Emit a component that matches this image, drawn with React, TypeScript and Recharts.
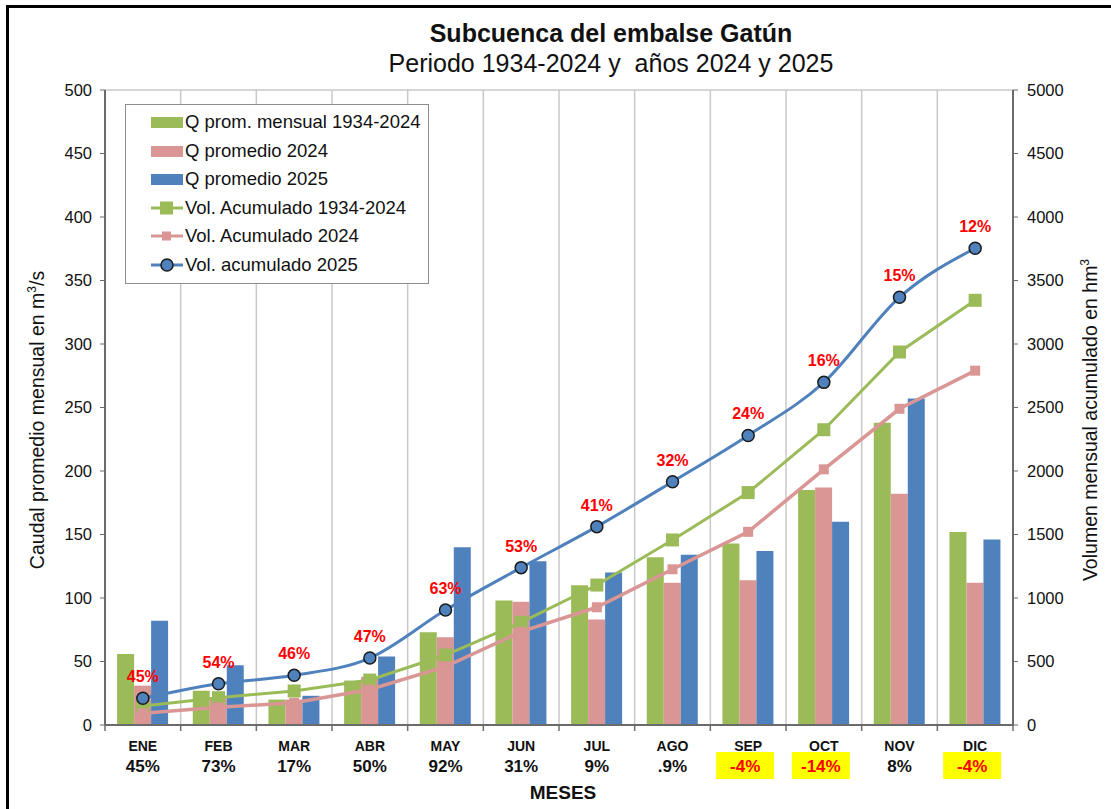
import {
  ComposedChart,
  Bar,
  Line,
  XAxis,
  YAxis,
  CartesianGrid,
  Legend,
  LabelList,
} from "recharts";

const months = ["ENE", "FEB", "MAR", "ABR", "MAY", "JUN", "JUL", "AGO", "SEP", "OCT", "NOV", "DIC"];
const monthChange = ["45%", "73%", "17%", "50%", "92%", "31%", "9%", ".9%", "-4%", "-14%", "8%", "-4%"];

const qHist = [56, 27, 20, 35, 73, 98, 110, 132, 143, 185, 238, 152];
const q2024 = [31, 22, 20, 38, 69, 97, 83, 112, 114, 187, 182, 112];
const q2025 = [82, 47, 23, 54, 140, 129, 120, 134, 137, 160, 257, 146];

const volHist = [150, 215, 268, 354, 551, 808, 1102, 1457, 1830, 2325, 2937, 3344];
const vol2024 = [92, 140, 175, 280, 460, 735, 927, 1226, 1521, 2013, 2490, 2790];
const vol2025 = [210, 325, 391, 527, 905, 1239, 1562, 1916, 2280, 2698, 3368, 3754];
const vol2025Pct = ["45%", "54%", "46%", "47%", "63%", "53%", "41%", "32%", "24%", "16%", "15%", "12%"];

const leftTicks = [0, 50, 100, 150, 200, 250, 300, 350, 400, 450, 500];
const rightTicks = [0, 500, 1000, 1500, 2000, 2500, 3000, 3500, 4000, 4500, 5000];

const data = months.map((m, i) => ({
  month: m,
  qHist: qHist[i],
  q2024: q2024[i],
  q2025: q2025[i],
  volHist: volHist[i],
  vol2024: vol2024[i],
  vol2025: vol2025[i],
  pct: vol2025Pct[i],
}));

const GREEN = "#9BBB59";
const PINK = "#D99694";
const BLUE = "#4F81BD";
const FONT = "'Liberation Sans', Arial, sans-serif";
const NARROW = "'Liberation Sans Narrow', 'Arial Narrow', 'Liberation Sans', Arial, sans-serif";

const PLOT_LEFT = 105;
const PLOT_W = 908;
const BAND = PLOT_W / months.length;

const legendItems = [
  { label: "Q prom. mensual 1934-2024", color: GREEN, kind: "bar" },
  { label: "Q promedio 2024", color: PINK, kind: "bar" },
  { label: "Q promedio 2025", color: BLUE, kind: "bar" },
  { label: "Vol. Acumulado 1934-2024", color: GREEN, kind: "square" },
  { label: "Vol. Acumulado 2024", color: PINK, kind: "small" },
  { label: "Vol. acumulado 2025", color: BLUE, kind: "circle" },
];

function LegendBox() {
  return (
    <div
      style={{
        border: "1.5px solid #8c8c8c",
        background: "#fff",
        padding: "3px 4px 4px 24px",
        fontFamily: FONT,
        fontSize: 18.5,
        color: "#111",
        width: 274,
      }}
    >
      {legendItems.map((it) => (
        <div key={it.label} style={{ display: "flex", alignItems: "center", height: 28.5, whiteSpace: "nowrap" }}>
          <svg width={34} height={16} style={{ marginRight: 1, flexShrink: 0 }}>
            {it.kind === "bar" ? (
              <rect x={1} y={3} width={32} height={11} fill={it.color} />
            ) : (
              <>
                <line x1={1} y1={8} x2={33} y2={8} stroke={it.color} strokeWidth={3} />
                {it.kind === "square" && <rect x={10} y={1.5} width={13} height={13} fill={it.color} />}
                {it.kind === "small" && <rect x={12} y={3.5} width={9} height={9} fill={it.color} />}
                {it.kind === "circle" && (
                  <circle cx={17} cy={8} r={6} fill={it.color} stroke="#1a1a1a" strokeWidth={1.5} />
                )}
              </>
            )}
          </svg>
          <span>{it.label}</span>
        </div>
      ))}
    </div>
  );
}

function MonthTick(props: any) {
  const { x, y, payload } = props;
  const i = payload.index;
  const change = monthChange[i];
  const neg = change.startsWith("-");
  const left = x - BAND / 2;
  return (
    <g>
      <line x1={left} y1={y} x2={left} y2={y + 6} stroke="#6b6b6b" strokeWidth={1.5} />
      {i === months.length - 1 && (
        <line x1={x + BAND / 2} y1={y} x2={x + BAND / 2} y2={y + 6} stroke="#6b6b6b" strokeWidth={1.5} />
      )}
      <text x={x} y={y + 26} textAnchor="middle" fontFamily={NARROW} fontWeight="bold" fontSize={14} fill="#111">
        {payload.value}
      </text>
      {neg && <rect x={x - 32} y={y + 27} width={58} height={27} fill="#FFFF00" />}
      <text
        x={neg ? x - 3 : x}
        y={y + 47}
        textAnchor="middle"
        fontFamily={NARROW}
        fontWeight="bold"
        fontSize={17}
        fill={neg ? "#FF0000" : "#111"}
      >
        {change}
      </text>
    </g>
  );
}

function SquareDot(size: number, color: string) {
  return (props: any) => {
    const { cx, cy, index } = props;
    if (cx == null || cy == null) return <g key={index} />;
    return <rect key={index} x={cx - size / 2} y={cy - size / 2} width={size} height={size} fill={color} />;
  };
}

function PctLabel(props: any) {
  const { x, y, value } = props;
  return (
    <text x={x} y={y - 16} textAnchor="middle" fontFamily={FONT} fontWeight="bold" fontSize={16} fill="#FF0000">
      {value}
    </text>
  );
}

const verticalLines = Array.from({ length: months.length + 1 }, (_, i) => PLOT_LEFT + i * BAND);

export default function App() {
  return (
    <div style={{ position: "absolute", left: 0, top: 0, width: 1111, height: 809, background: "#fff", overflow: "hidden" }}>
      <div
        style={{
          position: "absolute",
          left: 6,
          top: 5,
          width: 1105,
          height: 804,
          borderLeft: "3px solid #000",
          borderTop: "3px solid #000",
          boxSizing: "border-box",
        }}
      />
      <div
        style={{
          position: "absolute",
          left: 311,
          width: 600,
          top: 18,
          textAlign: "center",
          fontFamily: FONT,
          color: "#111",
        }}
      >
        <div style={{ fontWeight: "bold", fontSize: 25, lineHeight: "30px" }}>Subcuenca del embalse Gatún</div>
        <div style={{ fontSize: 25, lineHeight: "30px", whiteSpace: "pre" }}>Periodo 1934-2024 y  años 2024 y 2025</div>
      </div>

      <ComposedChart
        width={1111}
        height={809}
        data={data}
        margin={{ top: 90, right: 38, bottom: 14, left: 45 }}
        barCategoryGap="16%"
        barGap={0}
      >
        <CartesianGrid
          stroke="#c8c8c8"
          strokeWidth={1.5}
          verticalPoints={verticalLines}
          horizontal={true}
        />
        <XAxis
          dataKey="month"
          tickLine={false}
          tickSize={0}
          tickMargin={0}
          height={70}
          interval={0}
          axisLine={{ stroke: "#6b6b6b", strokeWidth: 2 }}
          tick={<MonthTick />}
        />
        <YAxis
          yAxisId="left"
          domain={[0, 500]}
          ticks={leftTicks}
          width={60}
          interval={0}
          tickSize={5}
          tickMargin={8}
          tickLine={{ stroke: "#6b6b6b" }}
          axisLine={{ stroke: "#6b6b6b", strokeWidth: 2 }}
          tick={{ fontFamily: FONT, fontSize: 16.5, fill: "#111" }}
        />
        <YAxis
          yAxisId="right"
          orientation="right"
          domain={[0, 5000]}
          ticks={rightTicks}
          width={60}
          interval={0}
          tickSize={5}
          tickMargin={9}
          tickLine={{ stroke: "#6b6b6b" }}
          axisLine={{ stroke: "#6b6b6b", strokeWidth: 2 }}
          tick={{ fontFamily: FONT, fontSize: 16.5, fill: "#111" }}
        />
        <Legend
          layout="vertical"
          align="center"
          verticalAlign="middle"
          wrapperStyle={{ left: 125, top: 104, width: "auto" }}
          content={() => <LegendBox />}
        />
        <Bar yAxisId="left" dataKey="qHist" fill={GREEN} isAnimationActive={false} />
        <Bar yAxisId="left" dataKey="q2024" fill={PINK} isAnimationActive={false} />
        <Bar yAxisId="left" dataKey="q2025" fill={BLUE} isAnimationActive={false} />
        <Line
          yAxisId="right"
          type="linear"
          dataKey="volHist"
          stroke={GREEN}
          strokeWidth={3}
          dot={SquareDot(13, GREEN)}
          activeDot={false}
          isAnimationActive={false}
        />
        <Line
          yAxisId="right"
          type="linear"
          dataKey="vol2024"
          stroke={PINK}
          strokeWidth={3.5}
          dot={SquareDot(10, PINK)}
          activeDot={false}
          isAnimationActive={false}
        />
        <Line
          yAxisId="right"
          type="monotone"
          dataKey="vol2025"
          stroke={BLUE}
          strokeWidth={3}
          dot={{ r: 6, fill: BLUE, stroke: "#1a1a1a", strokeWidth: 1.5 }}
          activeDot={false}
          isAnimationActive={false}
        >
          <LabelList dataKey="pct" content={<PctLabel />} />
        </Line>
      </ComposedChart>

      <div
        style={{
          position: "absolute",
          left: 37,
          top: 420,
          transform: "translate(-50%, -50%) rotate(-90deg)",
          whiteSpace: "nowrap",
          fontFamily: FONT,
          fontSize: 19.5,
          color: "#111",
        }}
      >
        Caudal promedio mensual en m<sup style={{ fontSize: 12 }}>3</sup>/s
      </div>
      <div
        style={{
          position: "absolute",
          left: 1090,
          top: 420,
          transform: "translate(-50%, -50%) rotate(-90deg)",
          whiteSpace: "nowrap",
          fontFamily: FONT,
          fontSize: 19.5,
          color: "#111",
        }}
      >
        Volumen mensual acumulado en hm<sup style={{ fontSize: 12 }}>3</sup>
      </div>
      <div
        style={{
          position: "absolute",
          left: 563,
          top: 793,
          transform: "translate(-50%, -50%)",
          fontFamily: NARROW,
          fontWeight: "bold",
          fontSize: 19,
          color: "#111",
        }}
      >
        MESES
      </div>
    </div>
  );
}
